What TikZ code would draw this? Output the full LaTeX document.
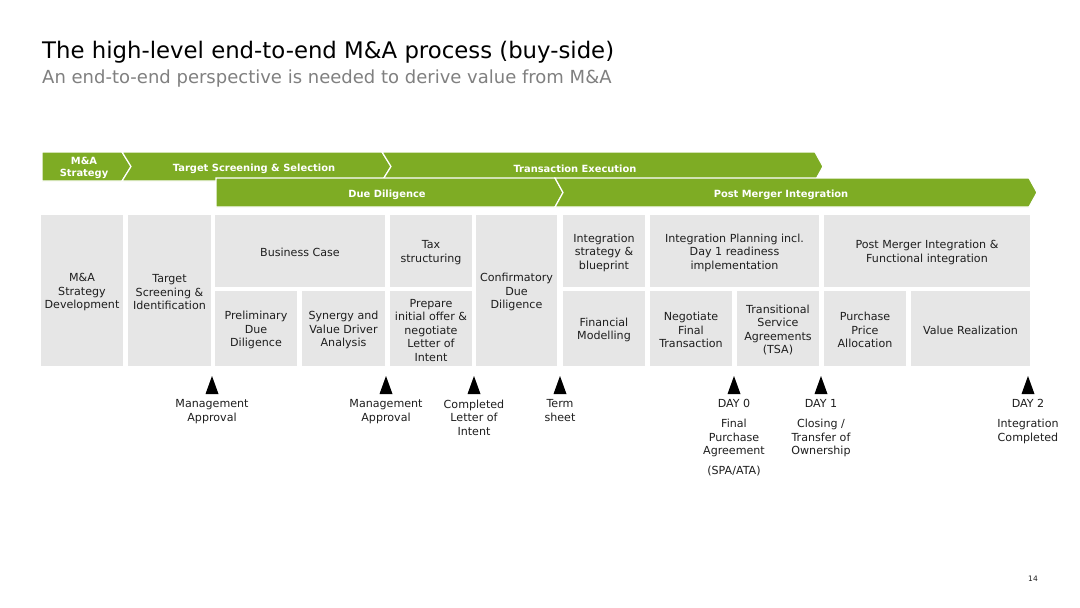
\documentclass[tikz,border=0pt]{standalone}
\usepackage{fontspec}
\setmainfont{DejaVu Sans}
\definecolor{kgreen}{RGB}{126,172,36}
\definecolor{boxgray}{RGB}{230,230,230}
\definecolor{txt}{RGB}{30,30,30}
\definecolor{subgray}{RGB}{128,128,128}
\newcommand\gbox[6]{%
  \node[box, minimum width=#4pt, minimum height=#5pt] (#1) at (#2,#3) {};
  \node[boxtext] (#1-t) at ([yshift=-1.6pt]#1.center) {#6};}
\begin{document}
\begin{tikzpicture}[x=1pt,y=-1pt,
 box/.style={fill=boxgray, inner sep=0pt},
 boxtext/.style={inner sep=0pt, align=center, text=txt, font=\fontsize{11.1}{13.5}\selectfont},
 band/.style={fill=kgreen, draw=white, line width=1.2pt, line join=miter},
 bandtext/.style={text=white, font=\bfseries\fontsize{9.9}{12.5}\selectfont, align=center, inner sep=0pt},
 mile/.style={fill=black},
 miletext/.style={anchor=north, inner sep=0pt, align=center, text=txt, font=\fontsize{11.1}{13.5}\selectfont}]
\useasboundingbox[fill=white] (0,0) rectangle (1080,608);

% title
\node[anchor=base west, inner sep=0pt, text=black, font=\fontsize{22.8}{27}\selectfont] (title) at (42,58) {The high-level end-to-end M\&A process (buy-side)};
\node[anchor=base west, inner sep=0pt, text=subgray, font=\fontsize{18}{21}\selectfont] (subtitle) at (42,83) {An end-to-end perspective is needed to derive value from M\&A};

% bands row 1
\filldraw[band] (42,152) -- (122,152) -- (131,166.5) -- (122,181) -- (42,181) -- cycle;
\filldraw[band] (122,152) -- (382,152) -- (391,166.5) -- (382,181) -- (122,181) -- (131,166.5) -- cycle;
\filldraw[band] (382,152) -- (815,152) -- (823,166.5) -- (815,181) -- (382,181) -- (391,166.5) -- cycle;
% bands row 2
\filldraw[band] (216,178) -- (555,178) -- (563,192.5) -- (555,207) -- (216,207) -- cycle;
\filldraw[band] (555,178) -- (1029,178) -- (1037,192.5) -- (1029,207) -- (555,207) -- (563,192.5) -- cycle;

\node[bandtext] (bA) at (84,168) {M\&A\\Strategy};
\node[bandtext] (bB) at (254,168.5) {Target Screening \& Selection};
\node[bandtext] (bC) at (575,168.5) {Transaction Execution};
\node[bandtext] (bD) at (387,194.5) {Due Diligence};
\node[bandtext] (bE) at (781,194.5) {Post Merger Integration};

% boxes
\gbox{stratdev}{82}{290.5}{82}{151}{M\&A\\Strategy\\Development}
\gbox{screen}{169.5}{290.5}{83}{151}{Target\\Screening \&\\Identification}
\gbox{bizcase}{300}{251}{170}{72}{Business Case}
\gbox{prelim}{256}{328.5}{82}{75}{Preliminary\\Due\\Diligence}
\gbox{synergy}{343.5}{328.5}{83}{75}{Synergy and\\Value Driver\\Analysis}
\gbox{tax}{431}{251}{82}{72}{Tax\\structuring}
\gbox{offer}{431}{328.5}{82}{75}{Prepare\\initial offer \&\\negotiate\\Letter of\\Intent}
\gbox{confirm}{516.5}{290.5}{81}{151}{Confirmatory\\Due\\Diligence}
\gbox{intstrat}{604}{251}{82}{72}{Integration\\strategy \&\\blueprint}
\gbox{finmod}{604}{328.5}{82}{75}{Financial\\Modelling}
\gbox{intplan}{734.5}{251}{169}{72}{Integration Planning incl.\\Day 1 readiness\\implementation}
\gbox{negot}{691}{328.5}{82}{75}{Negotiate\\Final\\Transaction}
\gbox{tsa}{778}{328.5}{82}{75}{Transitional\\Service\\Agreements\\(TSA)}
\gbox{pmi}{927}{251}{206}{72}{Post Merger Integration \&\\Functional integration}
\gbox{ppa}{865}{328.5}{82}{75}{Purchase\\Price\\Allocation}
\gbox{value}{970.5}{328.5}{119}{75}{Value Realization}

% milestones
\foreach \n/\x in {m1/212,m2/386,m3/474,m4/560,m5/734,m6/821,m7/1028}{
  \coordinate (\n) at (\x,376);
  \fill[mile] (\n) -- ++(6.5,18) -- ++(-13,0) -- cycle;
}
\node[miletext] (l1) at (212,399.5) {Management\\Approval};
\node[miletext] (l2) at (386,399.5) {Management\\Approval};
\node[miletext] (l3) at (474,399.5) {Completed\\Letter of\\Intent};
\node[miletext] (l4) at (560,399.5) {Term\\sheet};
\node[miletext] (l5) at (734,399.5) {DAY 0\\[6.5pt]Final\\Purchase\\Agreement\\[6.5pt](SPA/ATA)};
\node[miletext] (l6) at (821,399.5) {DAY 1\\[6.5pt]Closing /\\Transfer of\\Ownership};
\node[miletext] (l7) at (1028,399.5) {DAY 2\\[6.5pt]Integration\\Completed};

\node[inner sep=0pt, text=txt, font=\fontsize{7.5}{8}\selectfont] (pg) at (1033,579) {14};
\end{tikzpicture}
\end{document}
